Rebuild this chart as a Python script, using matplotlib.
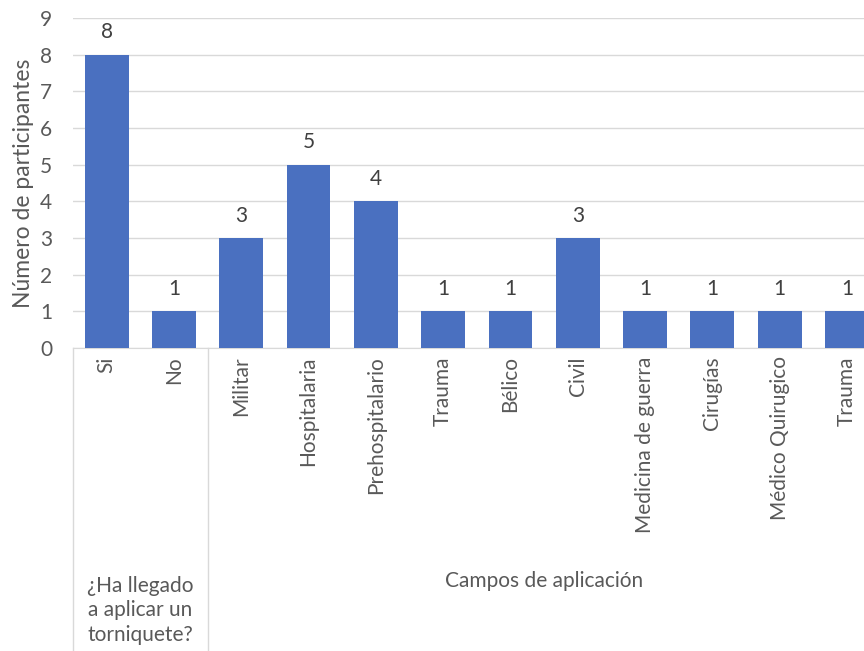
import matplotlib.pyplot as plt
import numpy as np

# datos de la encuesta
categorias = ["Si", "No", "Militar", "Hospitalaria", "Prehospitalario", "Trauma",
              "Bélico", "Civil", "Medicina de guerra", "Cirugías", "Médico Quirugico", "Trauma"]
valores = [8, 1, 3, 5, 4, 1, 1, 3, 1, 1, 1, 1]
grupos = ["¿Ha llegado\na aplicar un\ntorniquete?", "Campos de aplicación"]
grupo_rangos = [(0, 1), (2, 11)]

plt.rcParams['font.family'] = ['Lato', 'DejaVu Sans']
gris = '#595959'

fig = plt.figure(figsize=(8.64, 6.51), dpi=100)
W, H = 864, 651
ax = fig.add_axes([73 / W, (H - 348) / H, 807.6 / W, 330 / H])

x = np.arange(len(categorias))
barras = ax.bar(x, valores, width=0.65, color='#4A70C0', zorder=3)

for xi, v in zip(x, valores):
    ax.annotate(str(v), (xi, v), xytext=(0, 9), textcoords='offset points',
                ha='center', va='bottom', fontsize=15, color='#404040')

ax.set_xlim(-0.5, len(categorias) - 0.5)
ax.set_ylim(0, 9)
ax.set_yticks(range(10))
ax.grid(axis='y', color='#D9D9D9', linewidth=1, zorder=0)
for s in ['top', 'right', 'left']:
    ax.spines[s].set_visible(False)
ax.spines['bottom'].set_color('#D9D9D9')
ax.tick_params(axis='y', length=0, labelsize=15, labelcolor=gris, pad=15)
ax.set_xticks(x)
ax.set_xticklabels(categorias, rotation=90, va='top', ha='center')
ax.tick_params(axis='x', length=0, labelsize=15, labelcolor=gris, pad=6)
ax.set_ylabel("Número de participantes", fontsize=16.5, color=gris, labelpad=4)

# separadores de grupos bajo el eje
trans = ax.get_xaxis_transform()
for borde in [-0.5, 1.5]:
    ax.plot([borde, borde], [0, -1], transform=trans, color='#D9D9D9',
            linewidth=1, clip_on=False)

for nombre, (a, b) in zip(grupos, grupo_rangos):
    if '\n' in nombre:
        ax.text((a + b) / 2, -0.69, nombre, transform=trans, ha='center', va='top',
                fontsize=15, color=gris, linespacing=1.3)
    else:
        ax.text((a + b) / 2, -0.705, nombre, transform=trans, ha='center', va='center',
                fontsize=15, color=gris)

fig.savefig('out.png', dpi=100)
